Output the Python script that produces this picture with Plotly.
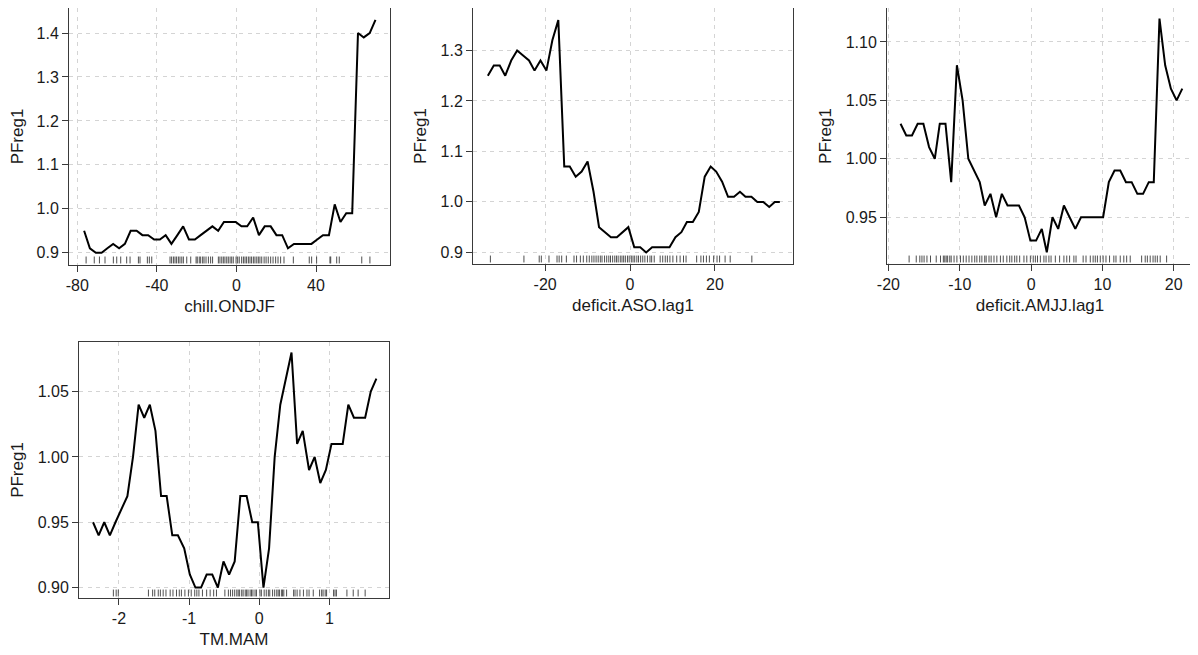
import plotly.graph_objects as go

# ---------------- data ----------------
chill_x = [-76.6, -73.7, -70.7, -67.8, -64.9, -62.0, -59.0, -56.1, -53.2, -50.2,
           -47.3, -44.4, -41.4, -38.5, -35.6, -32.7, -29.7, -26.8, -23.9, -20.9,
           -18.0, -15.1, -12.1, -9.2, -6.3, -3.3, -0.4, 2.5, 5.4, 8.4,
           11.3, 14.2, 17.2, 20.1, 23.0, 25.9, 28.9, 31.8, 34.7, 37.7,
           40.6, 43.5, 46.5, 49.4, 52.3, 55.2, 58.2, 61.1, 64.0, 67.0, 69.9]
chill_y = [0.95, 0.91, 0.90, 0.90, 0.91, 0.92, 0.91, 0.92, 0.95, 0.95,
           0.94, 0.94, 0.93, 0.93, 0.94, 0.92, 0.94, 0.96, 0.93, 0.93,
           0.94, 0.95, 0.96, 0.95, 0.97, 0.97, 0.97, 0.96, 0.96, 0.98,
           0.94, 0.96, 0.96, 0.94, 0.94, 0.91, 0.92, 0.92, 0.92, 0.92,
           0.93, 0.94, 0.94, 1.01, 0.97, 0.99, 0.99, 1.40, 1.39, 1.40, 1.43]
chill_rug = [-75.6, -71.5, -68.9, -66.1, -61.9, -60.2, -58.2, -55.2, -53.5, -49.3,
             -48.5, -44.8, -43.8, -42.6, -33.4, -32.6, -31.7, -30.9, -30.1, -29.2,
             -28.4, -27.5, -26.7, -25.0, -23.0, -20.3, -19.7, -18.7, -18.0, -17.0,
             -16.3, -15.3, -14.1, -13.0, -12.0, -9.1, -8.3, -7.4, -6.6, -5.8,
             -4.9, -4.1, -3.2, -2.4, -1.6, -0.2, 0.6, 1.4, 2.6, 3.5,
             4.3, 5.1, 6.0, 6.8, 7.6, 8.5, 9.3, 10.2, 11.0, 11.8,
             12.7, 13.9, 14.9, 16.0, 17.2, 18.4, 19.7, 20.9, 22.2, 23.9,
             28.6, 36.6, 37.8, 40.3, 47.0, 47.4, 50.4, 51.7, 63.0, 67.1]

aso_x = [-33.5, -32.1, -30.7, -29.4, -28.0, -26.6, -25.2, -23.8, -22.5, -21.1,
         -19.7, -18.3, -16.9, -15.5, -14.2, -12.8, -11.4, -10.0, -8.6, -7.3,
         -5.9, -4.5, -3.1, -1.7, -0.4, 1.0, 2.4, 3.8, 5.2, 6.5,
         7.9, 9.3, 10.7, 12.1, 13.4, 14.8, 16.2, 17.6, 19.0, 20.3,
         21.7, 23.1, 24.5, 25.9, 27.2, 28.6, 30.0, 31.4, 32.8, 34.1, 35.3]
aso_y = [1.25, 1.27, 1.27, 1.25, 1.28, 1.30, 1.29, 1.28, 1.26, 1.28,
         1.26, 1.32, 1.36, 1.07, 1.07, 1.05, 1.06, 1.08, 1.02, 0.95,
         0.94, 0.93, 0.93, 0.94, 0.95, 0.91, 0.91, 0.90, 0.91, 0.91,
         0.91, 0.91, 0.93, 0.94, 0.96, 0.96, 0.98, 1.05, 1.07, 1.06,
         1.04, 1.01, 1.01, 1.02, 1.01, 1.01, 1.00, 1.00, 0.99, 1.00, 1.00]
aso_rug = [-32.9, -25.0, -21.4, -20.9, -19.1, -17.2, -16.7, -16.1, -15.0, -13.2,
           -12.6, -11.7, -11.0, -10.2, -9.6, -9.0, -8.5, -8.0, -7.5, -7.0,
           -6.6, -6.0, -5.5, -5.0, -4.6, -4.1, -3.6, -3.2, -2.8, -2.3,
           -1.9, -1.5, -1.1, -0.6, -0.2, 0.3, 0.7, 1.1, 1.6, 2.0,
           2.5, 3.0, 3.5, 4.1, 4.7, 5.1, 5.7, 7.1, 7.7, 8.3,
           8.8, 9.4, 10.1, 11.0, 11.8, 12.6, 13.2, 15.7, 16.7, 17.3,
           18.0, 18.7, 19.7, 20.5, 21.1, 22.4, 23.6, 28.7]

amjj_x = [-18.3, -17.5, -16.7, -15.9, -15.1, -14.3, -13.5, -12.8, -12.0, -11.2,
          -10.4, -9.6, -8.8, -8.0, -7.2, -6.5, -5.7, -4.9, -4.1, -3.3,
          -2.5, -1.7, -0.9, -0.1, 0.7, 1.5, 2.2, 3.0, 3.8, 4.6,
          5.4, 6.2, 7.0, 7.8, 8.6, 9.3, 10.1, 10.9, 11.7, 12.5,
          13.3, 14.1, 14.9, 15.7, 16.5, 17.2, 18.0, 18.8, 19.6, 20.4, 21.2]
amjj_y = [1.03, 1.02, 1.02, 1.03, 1.03, 1.01, 1.00, 1.03, 1.03, 0.98,
          1.08, 1.05, 1.00, 0.99, 0.98, 0.96, 0.97, 0.95, 0.97, 0.96,
          0.96, 0.96, 0.95, 0.93, 0.93, 0.94, 0.92, 0.95, 0.94, 0.96,
          0.95, 0.94, 0.95, 0.95, 0.95, 0.95, 0.95, 0.98, 0.99, 0.99,
          0.98, 0.98, 0.97, 0.97, 0.98, 0.98, 1.12, 1.08, 1.06, 1.05, 1.06]
amjj_rug = [-17.1, -16.1, -15.6, -15.3, -15.0, -14.6, -14.1, -13.3, -12.7, -12.3,
            -12.1, -11.9, -11.7, -11.4, -11.2, -10.8, -10.4, -9.9, -9.5, -9.1,
            -8.7, -8.3, -7.9, -7.6, -7.2, -6.9, -6.5, -6.3, -5.9, -5.6,
            -5.2, -4.8, -4.3, -3.9, -3.4, -3.0, -2.7, -2.3, -2.0, -1.6,
            -1.0, -0.6, -0.1, 0.3, 0.6, 0.9, 1.3, 1.8, 2.1, 2.5,
            2.8, 3.4, 4.0, 4.6, 5.0, 5.4, 6.0, 6.3, 7.3, 7.7,
            8.3, 8.7, 9.0, 9.3, 9.7, 10.1, 10.5, 11.0, 11.6, 11.9,
            12.5, 13.0, 13.4, 13.9, 15.5, 16.0, 16.3, 16.7, 17.1, 17.4,
            17.7, 18.1, 19.0]

tm_x = [-2.37, -2.29, -2.21, -2.13, -2.05, -1.97, -1.88, -1.80, -1.72, -1.64,
        -1.56, -1.48, -1.40, -1.32, -1.24, -1.16, -1.07, -0.99, -0.91, -0.83,
        -0.75, -0.67, -0.59, -0.51, -0.43, -0.35, -0.27, -0.18, -0.10, -0.02,
        0.06, 0.14, 0.22, 0.30, 0.38, 0.46, 0.54, 0.62, 0.71, 0.79,
        0.87, 0.95, 1.03, 1.11, 1.19, 1.27, 1.35, 1.43, 1.51, 1.59, 1.67]
tm_y = [0.95, 0.94, 0.95, 0.94, 0.95, 0.96, 0.97, 1.00, 1.04, 1.03,
        1.04, 1.02, 0.97, 0.97, 0.94, 0.94, 0.93, 0.91, 0.90, 0.90,
        0.91, 0.91, 0.90, 0.92, 0.91, 0.92, 0.97, 0.97, 0.95, 0.95,
        0.90, 0.93, 1.00, 1.04, 1.06, 1.08, 1.01, 1.02, 0.99, 1.00,
        0.98, 0.99, 1.01, 1.01, 1.01, 1.04, 1.03, 1.03, 1.03, 1.05, 1.06]
tm_rug = [-2.08, -2.04, -2.01, -1.58, -1.52, -1.49, -1.44, -1.41, -1.37, -1.33,
          -1.27, -1.23, -1.18, -1.14, -1.11, -1.06, -1.01, -0.97, -0.92, -0.89,
          -0.86, -0.81, -0.75, -0.70, -0.65, -0.61, -0.49, -0.44, -0.41, -0.38,
          -0.35, -0.32, -0.30, -0.28, -0.25, -0.23, -0.20, -0.18, -0.16, -0.13,
          -0.11, -0.09, -0.06, -0.04, 0.01, 0.03, 0.07, 0.10, 0.13, 0.15,
          0.19, 0.22, 0.25, 0.27, 0.29, 0.32, 0.33, 0.35, 0.39, 0.49,
          0.51, 0.54, 0.58, 0.63, 0.68, 0.71, 0.77, 0.86, 0.89, 0.91,
          0.94, 0.96, 1.06, 1.08, 1.10, 1.25, 1.34, 1.41, 1.51]

x_titles = ["chill.ONDJF", "deficit.ASO.lag1", "deficit.AMJJ.lag1", "TM.MAM"]
y_title = "PFreg1"

xtick_vals = [[-80, -40, 0, 40], [-20, 0, 20], [-20, -10, 0, 10, 20], [-2, -1, 0, 1]]
xtick_text = [["-80", "-40", "0", "40"], ["-20", "0", "20"],
              ["-20", "-10", "0", "10", "20"], ["-2", "-1", "0", "1"]]
ytick_vals = [[0.9, 1.0, 1.1, 1.2, 1.3, 1.4], [0.9, 1.0, 1.1, 1.2, 1.3],
              [0.95, 1.00, 1.05, 1.10], [0.90, 0.95, 1.00, 1.05]]
ytick_text = [["0.9", "1.0", "1.1", "1.2", "1.3", "1.4"], ["0.9", "1.0", "1.1", "1.2", "1.3"],
              ["0.95", "1.00", "1.05", "1.10"], ["0.90", "0.95", "1.00", "1.05"]]

# ---------------- layout geometry ----------------
PAGE_OFF = 8                      # default body margin of the html page
W, H = 1198 - PAGE_OFF, 655 - PAGE_OFF
boxes = [  # (left, right, top, bottom) in screen pixels
    (69, 390, 7, 265),
    (473, 793, 7, 264),
    (887, 1193, 7, 264),
    (79, 389, 342, 598),
]
x_ranges = [[-84.2, 77.2], [-37.0, 38.4], [-20.2, 22.7], [-2.57, 1.85]]
y_ranges = [[0.872, 1.457], [0.877, 1.384], [0.910, 1.129], [0.892, 1.088]]

series = [(chill_x, chill_y, chill_rug), (aso_x, aso_y, aso_rug),
          (amjj_x, amjj_y, amjj_rug), (tm_x, tm_y, tm_rug)]

FONT = "Arial, 'Liberation Sans', sans-serif"
AX = "#3a3a3a"
GRID = "#d4d4d4"

fig = go.Figure()
shapes = []
layout = dict(template="none", width=W, height=H, autosize=False,
              margin=dict(l=0, r=0, t=0, b=0, pad=0),
              paper_bgcolor="white", plot_bgcolor="white", showlegend=False,
              font=dict(family=FONT, color="#1a1a1a", size=16))

for i, ((xs, ys, rug), (l, r, t, b)) in enumerate(zip(series, boxes)):
    n = "" if i == 0 else str(i + 1)
    xa, ya = "x" + n, "y" + n
    l, r, t, b = l - PAGE_OFF, r - PAGE_OFF, t - PAGE_OFF, b - PAGE_OFF
    fig.add_trace(go.Scatter(x=xs, y=ys, mode="lines", xaxis=xa, yaxis=ya,
                             line=dict(color="black", width=2), hoverinfo="skip"))
    common = dict(showline=True, mirror=True, linecolor=AX, linewidth=1,
                  ticks="outside", ticklen=6, tickwidth=1, tickcolor=AX,
                  showgrid=True, gridcolor=GRID, griddash="4px,4.5px", gridwidth=1,
                  zeroline=False, automargin=False,
                  tickfont=dict(size=16, family=FONT, color="#1a1a1a"))
    layout["xaxis" + n] = dict(domain=[max(l, 0) / W, min(r, W) / W], anchor=ya,
                               range=x_ranges[i],
                               tickvals=xtick_vals[i], ticktext=xtick_text[i],
                               title=dict(text=x_titles[i], font=dict(size=17, family=FONT),
                                          standoff=6), **common)
    layout["yaxis" + n] = dict(domain=[1 - b / H, min(1 - t / H, 1)], anchor=xa,
                               range=y_ranges[i],
                               tickvals=ytick_vals[i], ticktext=ytick_text[i],
                               title=dict(text=y_title, font=dict(size=17, family=FONT),
                                          standoff=9), **common)
    for v in rug:
        shapes.append(dict(type="line", xref=xa, yref=ya + " domain", x0=v, x1=v,
                           y0=0.006, y1=0.033, line=dict(color="#222222", width=0.8)))

layout["shapes"] = shapes
fig.update_layout(**layout)
fig.write_html("out.html")
